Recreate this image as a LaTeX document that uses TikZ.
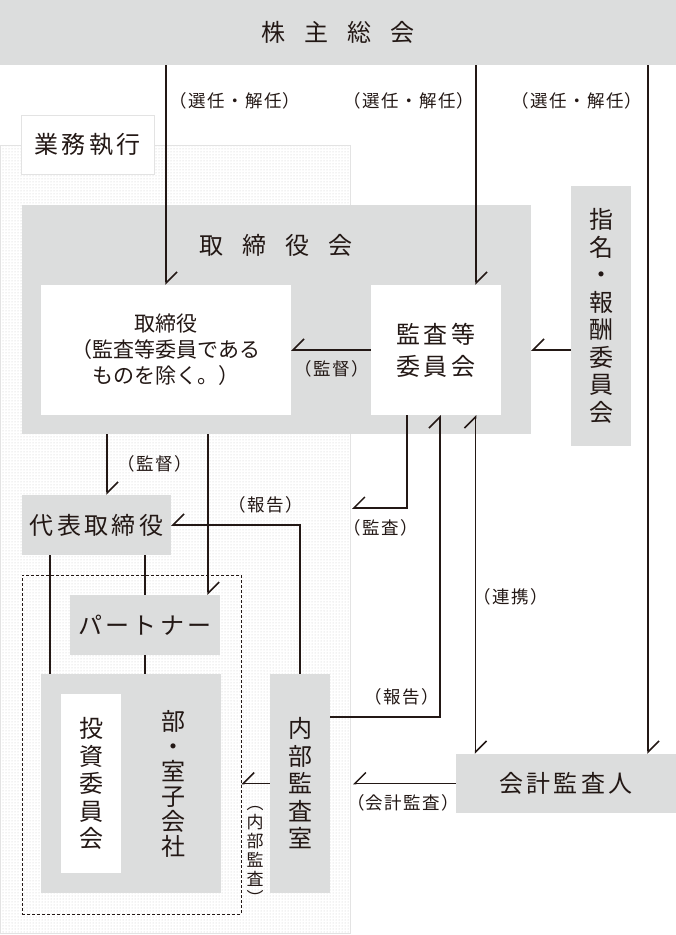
\documentclass[tikz,border=0pt]{standalone}
\usepackage{fontspec}
\setmainfont{Noto Sans CJK JP}
\usetikzlibrary{arrows.meta, positioning, patterns}
\definecolor{ink}{HTML}{231815}
\definecolor{panel}{HTML}{DCDDDD}
\definecolor{rim}{HTML}{E3E3E3}
\newcommand\ttlfont{\fontsize{24}{28}\selectfont}
\newcommand\boxfont{\fontsize{24}{27.5}\selectfont\addfontfeature{LetterSpace=14}}
\newcommand\dirfont{\fontsize{21}{26}\selectfont}
\newcommand\lblfont{\fontsize{17.5}{20}\selectfont\addfontfeature{LetterSpace=8}}
\newcommand\wsp{\hspace{19pt}}
\tikzset{
  barbL/.tip={Straight Barb[harpoon, length=11pt, width=22pt]},
  barbR/.tip={Straight Barb[harpoon, swap, length=11pt, width=22pt]},
  gbox/.style={fill=panel, inner sep=0pt, align=center, text=ink, font=\boxfont},
  wbox/.style={gbox, fill=white},
  lbl/.style={inner sep=0pt, align=center, font=\lblfont, text=ink},
  ln/.style={line width=1.5pt, draw=ink},
  vt/.style={ln, -barbL},
  hz/.style={ln, -barbR},
  tw/.style={ln, barbL-barbL},
}
\begin{document}
\begin{tikzpicture}[x=1pt, y=-1pt]
  \useasboundingbox (0,0) rectangle (676,935);
  % shareholders
  \node[gbox, font=\ttlfont, minimum width=676pt, minimum height=65pt] (shr) at (338,32.5) {株\wsp 主\wsp 総\wsp 会};
  % execution area
  \node[draw=rim, pattern=dots, pattern color=black!22, inner sep=0pt,
        minimum width=350pt, minimum height=788pt] (exec) at (175,539) {};
  \node[wbox, draw=rim, minimum width=133pt, minimum height=59pt] (gyomu) at (87.5,144.5) {業務執行};
  % board
  \node[gbox, minimum width=509pt, minimum height=229pt] (bod) at (276.5,319.5) {};
  \node[gbox, font=\ttlfont, fill=none] (bodt) at (276,245) {取\wsp 締\wsp 役\wsp 会};
  \node[wbox, font=\dirfont, minimum width=250pt, minimum height=130pt] (dir) at (166,350)
    {取締役\\（監査等委員である\\ものを除く。）};
  \node[wbox, minimum width=130pt, minimum height=130pt] (acc) at (436,350) {監査等\\[4.5pt]委員会};
  \node[gbox, minimum width=60pt, minimum height=260pt] (nom) at (601,316)
    {指\\名\\・\\報\\酬\\委\\員\\会};
  % executives
  \node[gbox, minimum width=149pt, minimum height=60pt] (rep) at (96.5,525) {代表取締役};
  \node[draw=ink, line width=0.8pt, dash pattern=on 3pt off 2pt, inner sep=0pt,
        minimum width=219pt, minimum height=339pt] (grp) at (131.5,744.5) {};
  \node[gbox, minimum width=150pt, minimum height=60pt] (ptn) at (145,625) {パートナー};
  \node[gbox, minimum width=180pt, minimum height=219pt] (dept) at (131,783.5) {};
  \node[gbox, fill=none, font={\fontsize{24}{25}\selectfont}] (deptt) at (173,783.5)
    {部\\・\\室\\子\\会\\社};
  \node[wbox, minimum width=60pt, minimum height=179pt] (inv) at (91,783.5) {投\\資\\委\\員\\会};
  \node[gbox, minimum width=60pt, minimum height=219pt] (aud) at (300,783.5) {内\\部\\監\\査\\室};
  \node[gbox, minimum width=220pt, minimum height=59pt] (cpa) at (566,783.5) {会計監査人};
  % labels
  \node[lbl] (l1) at (235,101) {（選任・解任）};
  \node[lbl] (l2) at (409,101) {（選任・解任）};
  \node[lbl] (l3) at (577,101) {（選任・解任）};
  \node[lbl] (l4) at (332,369) {（監督）};
  \node[lbl] (l5) at (155,464) {（監督）};
  \node[lbl] (l6) at (266,505) {（報告）};
  \node[lbl] (l7) at (381,528) {（監査）};
  \node[lbl] (l8) at (511,597) {（連携）};
  \node[lbl] (l9) at (402,697) {（報告）};
  \node[lbl] (l10) at (403,803) {（会計監査）};
  \node[lbl, font={\fontsize{17}{19}\selectfont}] (l11) at (255,855) {︵\\内\\部\\監\\査\\︶};
  % connectors
  \draw[vt] (dir.north |- shr.south) -- (dir.north);
  \draw[vt] ([xshift=40pt]acc.north |- shr.south) -- ([xshift=40pt]acc.north);
  \draw[vt] ([xshift=82pt]cpa.north |- shr.south) -- ([xshift=82pt]cpa.north);
  \draw[hz] (acc.west) -- (dir.east);
  \draw[hz] (nom.west |- acc.west) -- (bod.east |- acc.west);
  \draw[vt] ([xshift=10.5pt]rep.north |- bod.south) -- ([xshift=10.5pt]rep.north);
  \draw[vt] ([xshift=-12pt]ptn.north east |- bod.south) -- ([xshift=-12pt]ptn.north east);
  \draw[hz] (aud.north) |- (rep.east);
  \draw[ln] ([xshift=28pt]rep.south west) -- ([xshift=28pt]rep.south west |- dept.north);
  \draw[ln] (ptn.north |- rep.south) -- (ptn.north);
  \draw[ln] (ptn.south) -- (ptn.south |- dept.north);
  \coordinate (kansa) at (352,508);
  \draw[hz] ([xshift=-29pt]acc.south) |- (kansa);
  \draw[vt] ([yshift=66.5pt]aud.east) -| ([xshift=4pt]acc.south);
  \draw[tw] ([xshift=39.5pt]acc.south) -- ([xshift=39.5pt]acc.south |- cpa.north);
  \coordinate (kaikei) at (353,783.5);
  \draw[hz] (cpa.west) -- (kaikei);
  \draw[hz] (aud.west) -- (aud.west -| grp.east);
\end{tikzpicture}
\end{document}
